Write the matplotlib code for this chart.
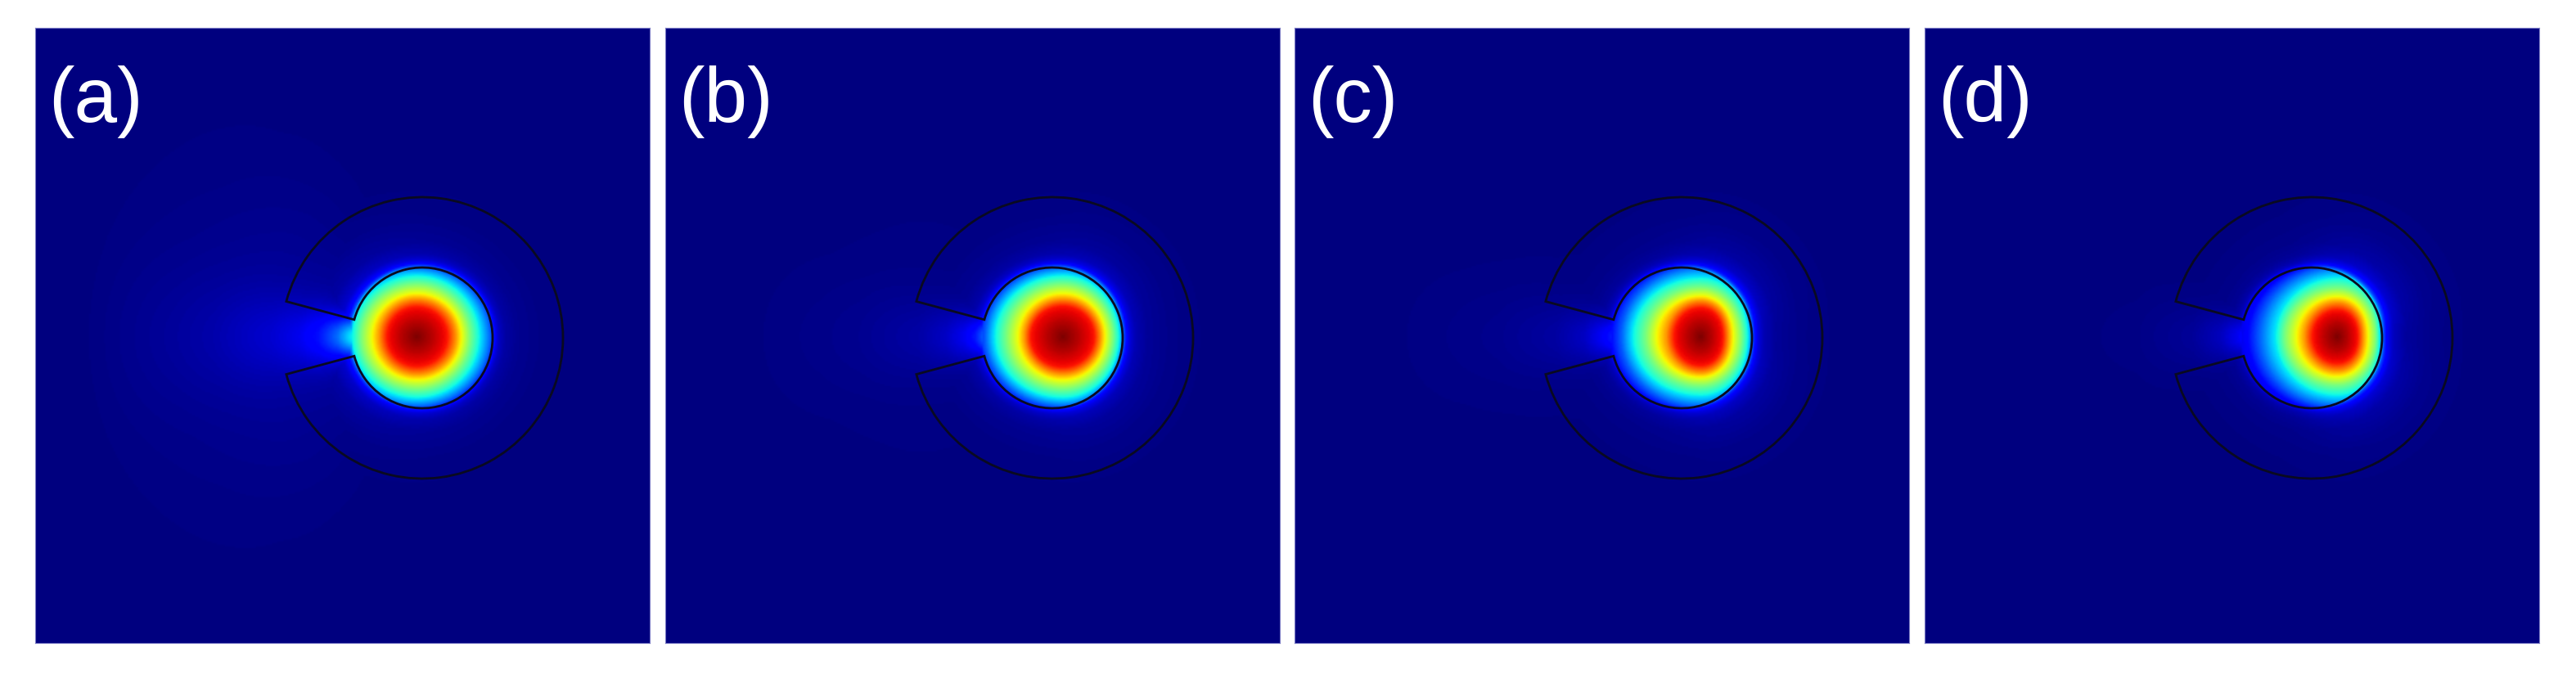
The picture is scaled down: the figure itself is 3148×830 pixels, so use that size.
import numpy as np
import matplotlib
matplotlib.use("Agg")
import matplotlib.pyplot as plt
from matplotlib.patches import Wedge

labels = ["(a)", "(b)", "(c)", "(d)"]

# panel left edges in pixels, all panels share size and top edge
panel_left = [43, 813, 1582, 2352]
panel_w, panel_h, panel_top = 751, 752, 34
fig_w, fig_h = 3148, 830

# geometry of the cut ring, in panel pixels
cx, cy = 473, 373
r_in, r_out = 86, 172
gap_half = 15

# shift of the field peak from the ring centre
peak_x = [-7, 12, 23, 31]

# field levels and the distance from the peak where each level is reached
levels = [1.0, 0.95, 0.89, 0.75, 0.64, 0.5, 0.36, 0.22, 0.11, 0.0]
radii_right = [
    [0, 19, 37, 48, 55, 65, 77, 90, 96, 125],
    [0, 19, 38, 46, 52, 61, 69, 74, 82, 110],
    [0, 14, 27, 34, 40, 50, 58, 63, 70, 100],
    [0, 13, 25, 32, 38, 47, 52, 56, 62, 90],
]
radii_up = [
    [0, 18, 36, 46, 53, 64, 75, 85, 93, 125],
    [0, 19, 37, 46, 53, 64, 75, 85, 93, 125],
    [0, 18, 35, 44, 50, 60, 72, 85, 93, 125],
    [0, 17, 32, 42, 49, 59, 72, 85, 93, 125],
]
radii_left = [
    [0, 19, 36, 46, 55, 68, 79, 97, 120, 180],
    [0, 19, 39, 47, 55, 69, 83, 95, 107, 165],
    [0, 16, 32, 42, 54, 67, 83, 97, 112, 170],
    [0, 15, 30, 40, 50, 64, 75, 95, 112, 165],
]

# fall off outside the core, by distance from the core edge
edge_dist = [0, 4, 8, 15, 30, 60, 120]
edge_fall = [1.0, 0.55, 0.35, 0.2, 0.1, 0.04, 0.0]

# leak through the gap, by distance from the peak
tail_r = [80, 97, 107, 120, 143, 177, 250, 400]
tail_val = [
    [0.36, 0.22, 0.17, 0.11, 0.07, 0.045, 0.02, 0.0],
    [0.36, 0.22, 0.14, 0.09, 0.05, 0.025, 0.01, 0.0],
    [0.36, 0.22, 0.15, 0.10, 0.05, 0.025, 0.01, 0.0],
    [0.36, 0.22, 0.16, 0.10, 0.05, 0.02, 0.005, 0.0],
]
# faint wide glow on the left side
glow_r = [80, 120, 200, 300, 450]
glow_val = [
    [0.0, 0.03, 0.025, 0.012, 0.0],
    [0.0, 0.012, 0.008, 0.003, 0.0],
    [0.0, 0.01, 0.005, 0.002, 0.0],
    [0.0, 0.006, 0.002, 0.0, 0.0],
]


def core(x, y, i):
    dx = x - cx - peak_x[i]
    dy = y - cy
    r = np.hypot(dx, dy) + 1e-6
    c2 = (dx / r) ** 2
    s2 = (dy / r) ** 2
    v = np.zeros_like(r)
    rad = []
    for k in range(len(levels)):
        side = np.where(dx > 0, radii_right[i][k], radii_left[i][k])
        rad.append(c2 * side + s2 * radii_up[i][k])
    for k in range(len(levels) - 1):
        m = (r >= rad[k]) & (r < rad[k + 1])
        t = (r[m] - rad[k][m]) / (rad[k + 1][m] - rad[k][m])
        v[m] = levels[k] + t * (levels[k + 1] - levels[k])
    return v


def field(i):
    xs = np.arange(0, panel_w, 2.0)
    ys = np.arange(0, panel_h, 2.0)
    x, y = np.meshgrid(xs, ys)
    dist = np.hypot(x - cx, y - cy) + 1e-6
    inside = dist <= r_in
    # value on the core edge along the same ray, then the fall off
    ex = cx + (x - cx) / dist * r_in
    ey = cy + (y - cy) / dist * r_in
    outer = core(ex, ey, i) * np.interp(dist - r_in, edge_dist, edge_fall)
    # angle away from the gap direction
    phi = np.degrees(np.arctan2(np.abs(y - cy), cx - x))
    rp = np.hypot(x - cx - peak_x[i], y - cy)
    tail = np.interp(rp, tail_r, tail_val[i]) * np.exp(-(phi / 16.0) ** 2)
    glow = np.interp(rp, glow_r, glow_val[i]) * np.clip(np.cos(np.radians(phi)), 0, 1) ** 2
    z = np.maximum(outer, tail + glow)
    z[inside] = core(x, y, i)[inside]
    return z


fig = plt.figure(figsize=(fig_w / 100, fig_h / 100), dpi=100)
for i in range(4):
    ax = fig.add_axes([panel_left[i] / fig_w, 1 - (panel_top + panel_h) / fig_h,
                       panel_w / fig_w, panel_h / fig_h])
    ax.imshow(field(i), origin="lower", extent=[0, panel_w, 0, panel_h],
              cmap="jet", vmin=0, vmax=1, interpolation="bilinear", aspect="auto")
    ax.add_patch(Wedge((cx, cy), r_out, -180 + gap_half, 180 - gap_half,
                       width=r_out - r_in, fill=False, ec="#0a0a20", lw=2.0))
    ax.text(16, panel_h - 115, labels[i], color="white", fontsize=68,
            family="Liberation Sans", va="baseline", ha="left")
    ax.set_xlim(0, panel_w)
    ax.set_ylim(0, panel_h)
    ax.set_xticks([])
    ax.set_yticks([])
    for s in ax.spines.values():
        s.set_color("#7a7ac4")
        s.set_linewidth(0.8)

fig.savefig("out.png", dpi=100)
